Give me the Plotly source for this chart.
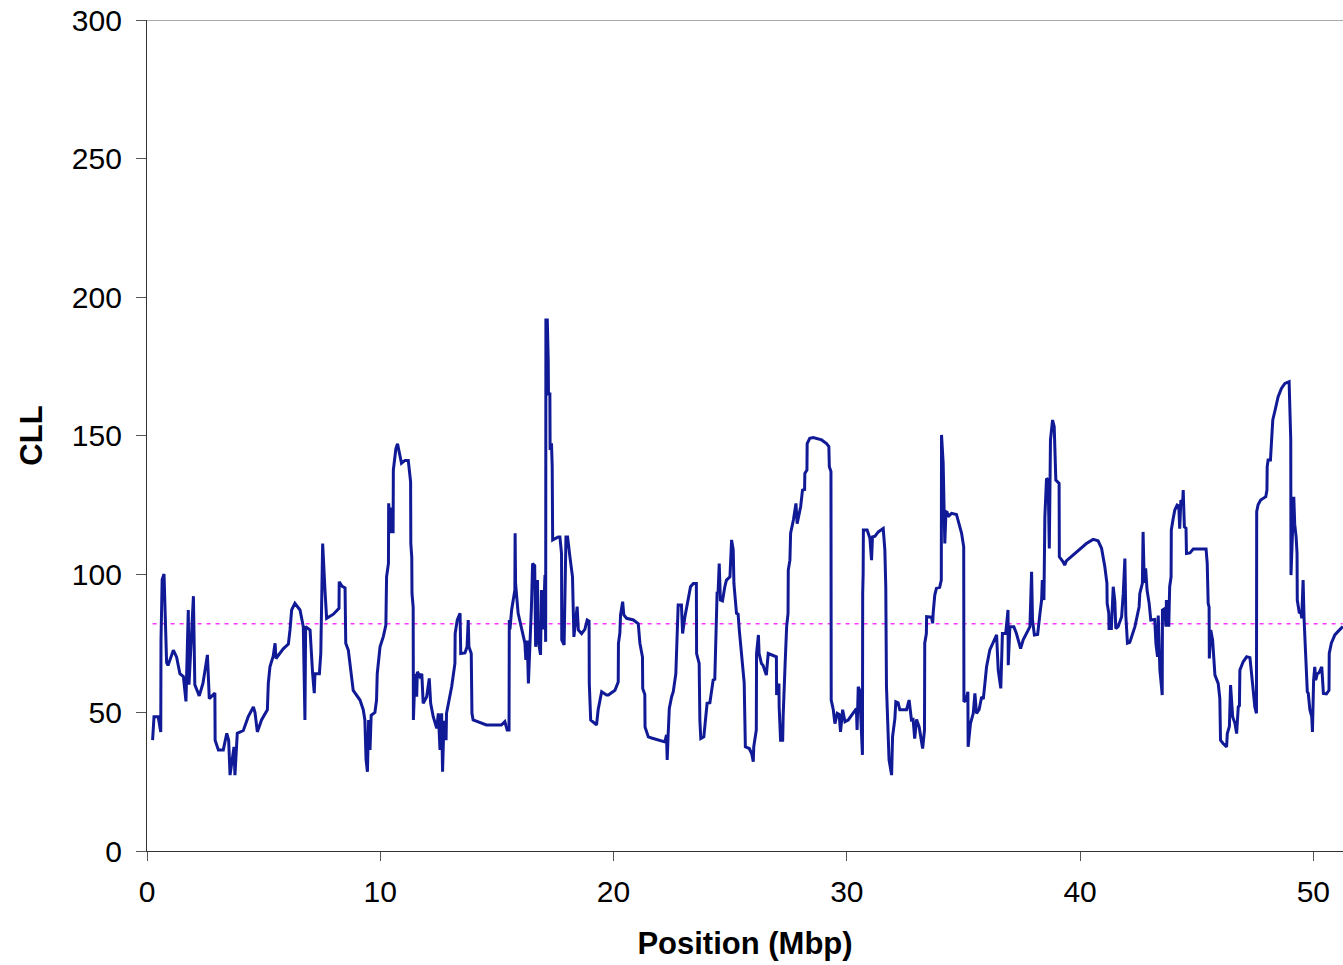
import plotly.graph_objects as go

# posicion en Mbp y valor CLL
pos = [0.24, 0.3, 0.48, 0.59, 0.6, 0.65, 0.73, 0.84, 0.9, 1.13, 1.27, 1.41, 1.56, 1.67, 1.77, 1.8, 1.99, 2.05,
       2.24, 2.4, 2.59, 2.67, 2.91, 2.92, 3.06, 3.27, 3.42, 3.5, 3.56, 3.73, 3.77, 3.87, 4.13, 4.34, 4.56, 4.63,
       4.73, 4.91, 5.16, 5.2, 5.27, 5.41, 5.49, 5.53, 5.84, 6.06, 6.13, 6.2, 6.34, 6.56, 6.7, 6.77, 6.8, 6.99,
       7.1, 7.17, 7.2, 7.39, 7.45, 7.49, 7.53, 7.63, 7.7, 7.99, 8.23, 8.24, 8.37, 8.49, 8.52, 8.63, 8.77, 8.84,
       9.13, 9.27, 9.34, 9.39, 9.45, 9.5, 9.56, 9.61, 9.77, 9.84, 9.87, 9.99, 10.13, 10.24, 10.27, 10.35, 10.36,
       10.44, 10.49, 10.55, 10.56, 10.67, 10.74, 10.84, 10.91, 11.06, 11.2, 11.3, 11.31, 11.35, 11.36, 11.41,
       11.42, 11.49, 11.56, 11.59, 11.7, 11.78, 11.84, 11.99, 12.1, 12.16, 12.27, 12.42, 12.49, 12.56, 12.63,
       12.67, 12.73, 12.82, 12.84, 13.06, 13.2, 13.21, 13.3, 13.42, 13.45, 13.63, 13.72, 13.77, 13.8, 13.9,
       13.91, 13.93, 13.98, 14.41, 14.55, 15.19, 15.34, 15.44, 15.52, 15.53, 15.56, 15.63, 15.77, 15.78, 15.8,
       15.91, 16.06, 16.2, 16.24, 16.3, 16.35, 16.44, 16.48, 16.53, 16.62, 16.66, 16.74, 16.77, 16.87, 16.91,
       16.98, 17.06, 17.09, 17.1, 17.16, 17.2, 17.21, 17.27, 17.28, 17.34, 17.37, 17.39, 17.63, 17.7, 17.77,
       17.78, 17.88, 17.96, 18.03, 18.13, 18.24, 18.3, 18.44, 18.49, 18.63, 18.77, 18.87, 18.95, 18.96, 19.02,
       19.27, 19.34, 19.49, 19.7, 19.78, 20.06, 20.2, 20.21, 20.27, 20.3, 20.39, 20.44, 20.56, 20.85, 20.92,
       21.06, 21.13, 21.24, 21.25, 21.34, 21.35, 21.49, 21.63, 21.99, 22.2, 22.27, 22.3, 22.34, 22.39, 22.49,
       22.56, 22.67, 22.7, 22.71, 22.77, 22.91, 22.96, 23.06, 23.2, 23.3, 23.42, 23.55, 23.56, 23.67, 23.7,
       23.74, 23.87, 23.96, 24.01, 24.13, 24.2, 24.27, 24.34, 24.39, 24.44, 24.48, 24.53, 24.58, 24.67, 24.77,
       24.84, 24.99, 25.02, 25.06, 25.13, 25.16, 25.27, 25.34, 25.39, 25.49, 25.59, 25.6, 25.65, 25.82, 25.92,
       25.99, 26.01, 26.12, 26.13, 26.21, 26.24, 26.34, 26.41, 26.55, 26.63, 26.77, 26.98, 26.99, 27.09, 27.1,
       27.16, 27.25, 27.27, 27.35, 27.42, 27.48, 27.49, 27.56, 27.59, 27.71, 27.82, 27.87, 28.02, 28.1, 28.19,
       28.2, 28.29, 28.3, 28.41, 28.56, 28.92, 29.13, 29.23, 29.25, 29.32, 29.33, 29.42, 29.49, 29.59, 29.67,
       29.73, 29.82, 29.92, 30.06, 30.27, 30.41, 30.44, 30.49, 30.55, 30.63, 30.67, 30.68, 30.7, 30.71, 30.87,
       30.99, 31.06, 31.1, 31.2, 31.35, 31.56, 31.63, 31.67, 31.7, 31.77, 31.81, 31.92, 31.96, 32.06, 32.1,
       32.2, 32.27, 32.56, 32.67, 32.77, 32.84, 32.91, 32.99, 33.1, 33.25, 33.33, 33.34, 33.41, 33.42, 33.63,
       33.68, 33.7, 33.77, 33.84, 33.98, 34.05, 34.06, 34.13, 34.2, 34.25, 34.3, 34.34, 34.49, 34.7, 34.82,
       34.92, 35.01, 35.02, 35.11, 35.19, 35.2, 35.3, 35.42, 35.49, 35.56, 35.67, 35.78, 35.85, 35.92, 35.99,
       36.13, 36.35, 36.42, 36.49, 36.6, 36.67, 36.81, 36.91, 36.92, 36.99, 37.16, 37.27, 37.45, 37.56, 37.78,
       37.85, 37.92, 37.96, 38.04, 38.18, 38.28, 38.35, 38.38, 38.45, 38.49, 38.56, 38.63, 38.68, 38.73, 38.82,
       38.89, 38.96, 39.1, 39.11, 39.27, 39.34, 39.41, 39.71, 39.99, 40.27, 40.56, 40.77, 40.92, 41.06, 41.15,
       41.16, 41.23, 41.24, 41.34, 41.42, 41.49, 41.53, 41.63, 41.78, 41.85, 41.92, 41.96, 42.03, 42.13, 42.35,
       42.53, 42.56, 42.67, 42.7, 42.75, 42.81, 42.87, 42.96, 43.03, 43.2, 43.25, 43.32, 43.35, 43.42, 43.49,
       43.52, 43.53, 43.63, 43.68, 43.7, 43.8, 43.84, 43.9, 43.91, 43.99, 44.06, 44.16, 44.23, 44.27, 44.32,
       44.39, 44.42, 44.47, 44.54, 44.56, 44.71, 44.85, 45.4, 45.45, 45.49, 45.53, 45.54, 45.6, 45.68, 45.78,
       45.92, 45.99, 46.02, 46.13, 46.28, 46.31, 46.4, 46.45, 46.54, 46.64, 46.71, 46.78, 46.83, 46.85, 46.99,
       47.14, 47.28, 47.35, 47.43, 47.49, 47.56, 47.57, 47.63, 47.74, 47.96, 48.01, 48.02, 48.06, 48.16, 48.2,
       48.26, 48.36, 48.49, 48.63, 48.78, 48.96, 48.99, 49.03, 49.04, 49.11, 49.16, 49.2, 49.26, 49.3, 49.31,
       49.4, 49.46, 49.5, 49.56, 49.6, 49.68, 49.74, 49.78, 49.85, 49.93, 49.96, 50.01, 50.06, 50.1, 50.17,
       50.24, 50.36, 50.43, 50.56, 50.67, 50.68, 50.77, 50.92, 51.05, 51.16, 51.26]

cll = [40, 48.5, 48.5, 43, 76, 98, 100, 68, 67, 72.5, 70, 64, 63, 54, 87, 60, 92, 60,
       56, 60.6, 70.8, 55, 57, 40, 36.5, 36.5, 42.5, 40, 27.4, 37.6, 27.4, 42.5, 43.5, 48.5, 52, 50,
       43, 47.3, 51, 60.5, 66.5, 70.3, 75, 69.5, 73, 74.7, 79.8, 87, 89.4, 87, 81, 47.3, 81, 79.8,
       64, 57, 64, 64, 71.3, 103.8, 111, 94, 84, 85.5, 87.6, 97.2, 95.5, 95, 75, 72.5, 64, 58,
       54.5, 51, 47.3, 33, 28.6, 47.3, 36.5, 49, 50, 54.5, 64, 73.7, 77.4, 81.6, 99, 103.8, 125.5,
       114.7, 124, 114.7, 137.5, 145.3, 147, 142.4, 140, 141, 141, 133.3, 111, 106, 93, 88,
       47.3, 64, 55.7, 64.7, 63, 64, 53.3, 55.7, 62.3, 53.3, 48.5, 44.3, 49.7, 36.5, 49.7,
       28.6, 47, 40, 49.7, 59.3, 67.7, 78.5, 83.4, 85.8, 71.3, 71.5, 73.7, 83.4, 73.7, 71.3,
       52.7, 49.7, 47.3, 46, 45.5, 45.5, 46.7, 43.7, 43.7, 83.4, 80, 87, 94.2, 114.7, 96.6,
       85.8, 79.8, 75, 69, 76, 60.5, 76.2, 88.2, 103.8, 103, 73.7, 97.8, 76, 70.8, 94.2,
       80, 99.6, 75.5, 191.7, 191.7, 177, 165, 165, 144.8, 147.2, 138.7, 112.3, 113.4, 113.4, 107.4,
       76.2, 74.4, 113.4, 113.4, 106.2, 99, 77.3, 88.2, 79.8, 78.5, 80, 83.4, 83, 60.5, 47.3,
       45.5, 51, 57.5, 56.3, 56.3, 58, 61, 75, 78.6, 85.2, 90, 85.2, 84, 83.4, 83,
       82, 75, 70, 58.7, 56.5, 44.8, 41.2, 40.8, 40, 39.4, 41.9, 32.9, 41.9, 51.5, 55.7,
       57.5, 64, 71.3, 81, 88.8, 88.8, 78.5, 84.6, 91.8, 95.4, 96.6, 96.6, 71.3, 67.7, 47.3,
       40.6, 41.2, 49.7, 53.3, 53.5, 57.5, 61.7, 62, 83.4, 93.6, 93, 103.8, 90.6, 90.3, 95.4,
       97.8, 99, 105, 112.3, 108.7, 96.6, 85.8, 85.5, 79.8, 70.1, 61.7, 60.8, 37.6, 37, 35.2,
       32.2, 37.6, 43.7, 71.3, 78, 71.3, 67.7, 67, 63.5, 71.3, 70.8, 70.1, 56.3, 60.5, 52,
       40, 40, 48.5, 66.5, 81, 85.8, 101.4, 105, 114.7, 119.5, 125.5, 118.2, 124.3, 130.3, 130.5,
       136.3, 137.5, 147.1, 149, 149.3, 148.4, 147.1, 146, 138.7, 137, 54.5, 51, 46, 49.7, 49.3,
       43, 51, 46.7, 47.3, 49.7, 51.4, 43.7, 59.3, 58, 38, 34.7, 93, 100.2, 115.9, 115.9,
       112.9, 105, 113.4, 113.6, 115.2, 116.4, 108.7, 95.4, 59.3, 44.8, 32.9, 27.4, 41.2, 47.8, 53.9,
       53.5, 51, 51, 54.5, 47.3, 47.5, 40.6, 47.5, 44.8, 37, 43.7, 75, 78.5, 84.6, 84.4,
       82.2, 85.8, 92.4, 94.8, 95.2, 97.8, 150.2, 140, 111, 122.5, 122.3, 120.7, 121.9, 121.5, 118.2,
       114.7, 109.8, 53.9, 54.5, 57.5, 37.6, 46, 49.7, 56.9, 49.7, 51, 55.7, 54.8, 60.5, 66.5,
       72.6, 76.7, 78, 65.3, 58.7, 78.5, 78.5, 87, 67.1, 81, 81, 78.5, 73.1, 76.2, 79.8,
       81, 100.8, 83.4, 78, 78.2, 85.8, 90.6, 97.8, 90.6, 120.7, 134.5, 134, 109.2, 148.4, 155.6,
       153.2, 133.9, 132.7, 106.2, 104.4, 103.2, 104.7, 106.9, 108.7, 111, 112.5, 112, 109.3, 102.6, 96.6,
       89.4, 85.8, 80.3, 80.3, 95.4, 90, 80.3, 81, 84.6, 93, 105.6, 85, 75, 75.3, 81,
       88.2, 93, 96.6, 115.2, 96.8, 102, 94.2, 89.4, 83.4, 83.6, 75, 70.1, 85, 65.3, 59.3,
       56.3, 87, 87.5, 81, 90.6, 81, 95.4, 99, 115.9, 120, 123.1, 124.9, 124.6, 116.4, 126.7,
       125, 130.3, 117, 116.5, 107.4, 107.6, 109, 109, 103.8, 89.4, 88, 69.5, 79.8, 76.2, 63.5,
       60.5, 55, 40, 38.8, 37.6, 42.4, 45, 59.9, 48.5, 46, 42.4, 52, 52.5, 65.3, 68.3,
       70.1, 69.8, 64, 56.9, 52, 49.7, 122.5, 125, 126.7, 127.9, 130.3, 138.7, 141.2, 141.2, 147.8,
       155.6, 159.2, 164, 167, 168.8, 169.4, 155.6, 148.4, 99.6, 119.5, 127.9, 118, 113.4, 107.4, 90.6,
       85.8, 86.5, 84, 97.8, 84, 71.3, 57.5, 57, 51, 48.5, 43, 61.7, 66.5, 61.7, 64,
       64.3, 66.5, 56.9, 56.7, 58, 71.3, 75, 78, 79.2, 80.3, 81]

umbral = 82
umbral_x = [pos[0], pos[-1]]
ytop = 300

fuente = "Liberation Sans, Arial, sans-serif"

fig = go.Figure()

fig.add_trace(go.Scatter(x=umbral_x, y=[umbral, umbral], mode='lines',
                         line=dict(color='#ff33ff', width=1.5, dash='4px,5px'),
                         showlegend=False, hoverinfo='skip'))

fig.add_trace(go.Scatter(x=pos, y=cll, mode='lines',
                         line=dict(color='#111a96', width=3),
                         showlegend=False))

# linea gris arriba (y = 300)
fig.add_shape(type='line', xref='paper', x0=0, x1=1, yref='y', y0=ytop, y1=ytop,
              line=dict(color='#8c8c8c', width=1.5), layer='below')

fig.update_layout(
    width=1343, height=965,
    margin=dict(l=147, r=0, t=20, b=114),
    paper_bgcolor='white', plot_bgcolor='white',
    font=dict(family=fuente, size=30, color='black'),
    showlegend=False,
    xaxis=dict(range=[0, 51.27], tickvals=[0, 10, 20, 30, 40, 50],
               showgrid=False, zeroline=False, showline=True, linecolor='#333333', linewidth=1.3,
               ticks='outside', ticklen=9, tickcolor='#555555', tickwidth=1.2, ticklabelstandoff=5,
               title=dict(text='<b>Position (Mbp)</b>', standoff=25, font=dict(size=31))),
    yaxis=dict(range=[0, ytop], tickvals=[0, 50, 100, 150, 200, 250, 300],
               showgrid=False, zeroline=False, showline=True, linecolor='#333333', linewidth=1.3,
               ticks='outside', ticklen=10, tickcolor='#555555', tickwidth=1.2, ticklabelstandoff=8,
               title=dict(text='<b>CLL</b>', standoff=19, font=dict(size=31))),
)

# sin margen en el body para que el grafico quede en 0,0
fig.write_html("out.html", config={'displayModeBar': False},
               post_script="document.body.style.margin='0';")
